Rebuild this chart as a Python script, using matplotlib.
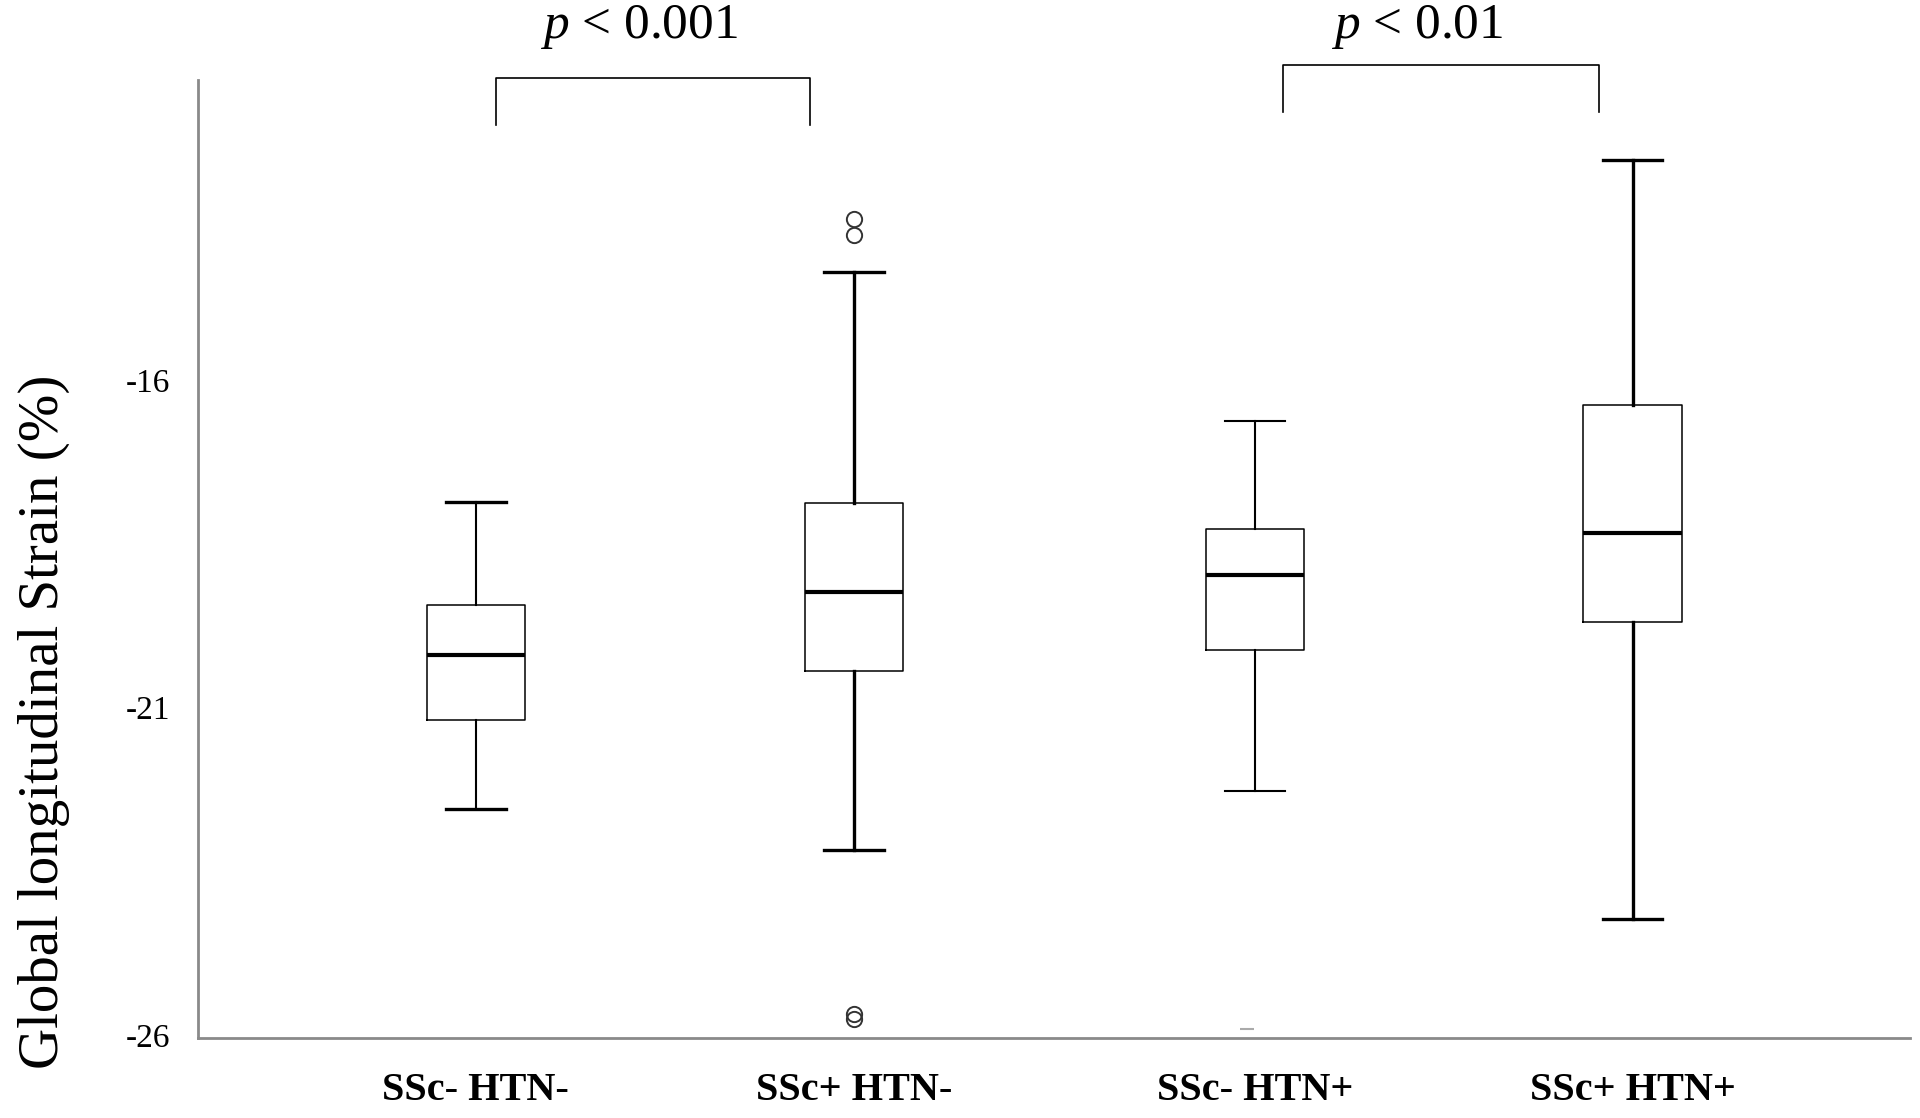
import matplotlib
matplotlib.use("Agg")
import matplotlib.pyplot as plt


plt.rcParams["font.family"] = ["Liberation Serif", "DejaVu Serif"]
plt.rcParams["mathtext.fontset"] = "custom"
plt.rcParams["mathtext.it"] = "Liberation Serif:italic"
plt.rcParams["mathtext.rm"] = "Liberation Serif"

# groups and box statistics (GLS, %)
groups = ["SSc- HTN-", "SSc+ HTN-", "SSc- HTN+", "SSc+ HTN+"]
whisker_low = [-22.55, -23.17, -22.27, -24.23]
q1 = [-21.19, -20.44, -20.12, -19.69]
median = [-20.20, -19.24, -18.98, -18.33]
q3 = [-19.43, -17.88, -18.27, -16.38]
whisker_high = [-17.86, -14.35, -16.63, -12.63]
outliers = [[], [-13.54, -13.78, -25.68, -25.76], [], []]
faint_mark = [None, None, -25.90, None]

yticks = [-16, -21, -26]
comparisons = [("p < 0.001", 0, 1), ("p < 0.01", 2, 3)]

positions = [0.72, 1.70, 2.74, 3.72]
whisker_lw = [1.5, 2.4, 1.5, 2.4]
cap_lw = [2.4, 2.4, 1.5, 2.4]

fig = plt.figure(figsize=(19.2, 11.18), dpi=100)
ax = fig.add_axes([0.1033, 0.0712, 0.8916, 0.8576])

stats = []
for i, g in enumerate(groups):
    stats.append(
        dict(
            label=g,
            whislo=whisker_low[i],
            q1=q1[i],
            med=median[i],
            q3=q3[i],
            whishi=whisker_high[i],
            fliers=outliers[i],
        )
    )

for i, s in enumerate(stats):
    ax.bxp(
        [s],
        positions=[positions[i]],
        widths=0.255,
        capwidths=0.155,
        showfliers=True,
        boxprops=dict(color="black", linewidth=1.1),
        medianprops=dict(color="black", linewidth=3.0),
        whiskerprops=dict(color="black", linewidth=whisker_lw[i]),
        capprops=dict(color="black", linewidth=cap_lw[i]),
        flierprops=dict(
            marker="o",
            markersize=11,
            markerfacecolor="none",
            markeredgecolor="#333333",
            markeredgewidth=1.4,
        ),
    )
    if faint_mark[i] is not None:
        ax.plot(positions[i] - 0.02, faint_mark[i], marker="_", color="#aaaaaa",
                markersize=10, markeredgewidth=1.5)

ax.set_xlim(0, 4.44)
ax.set_ylim(-26.05, -11.41)
ax.set_yticks(yticks)
ax.set_yticklabels([str(t) for t in yticks], fontsize=24)
ax.set_xticks(positions)
ax.set_xticklabels(groups, fontsize=29, fontweight="bold")
ax.tick_params(axis="y", length=0, pad=20)
ax.tick_params(axis="x", length=0, pad=24)

ax.set_ylabel("Global longitudinal Strain (%)", fontsize=41)
ax.yaxis.set_label_coords(-0.075, 0.33)

for side in ["top", "right"]:
    ax.spines[side].set_visible(False)
for side in ["left", "bottom"]:
    ax.spines[side].set_color("#8a8a8a")
    ax.spines[side].set_linewidth(2.0)

# significance brackets
bracket_x = [(0.771, 1.587), (2.813, 3.632)]
bracket_top = [-11.39, -11.19]
bracket_drop = 0.72
text_x = [1.143, 3.16]
for k, (label, a, b) in enumerate(comparisons):
    x0, x1 = bracket_x[k]
    yt = bracket_top[k]
    ax.plot([x0, x0, x1, x1], [yt - bracket_drop, yt, yt, yt - bracket_drop],
            color="black", linewidth=1.2, clip_on=False)
    ax.text(text_x[k], -10.61, "$p$" + label[1:], fontsize=37,
            ha="center", va="center", clip_on=False)

fig.savefig("out.png", dpi=100)
